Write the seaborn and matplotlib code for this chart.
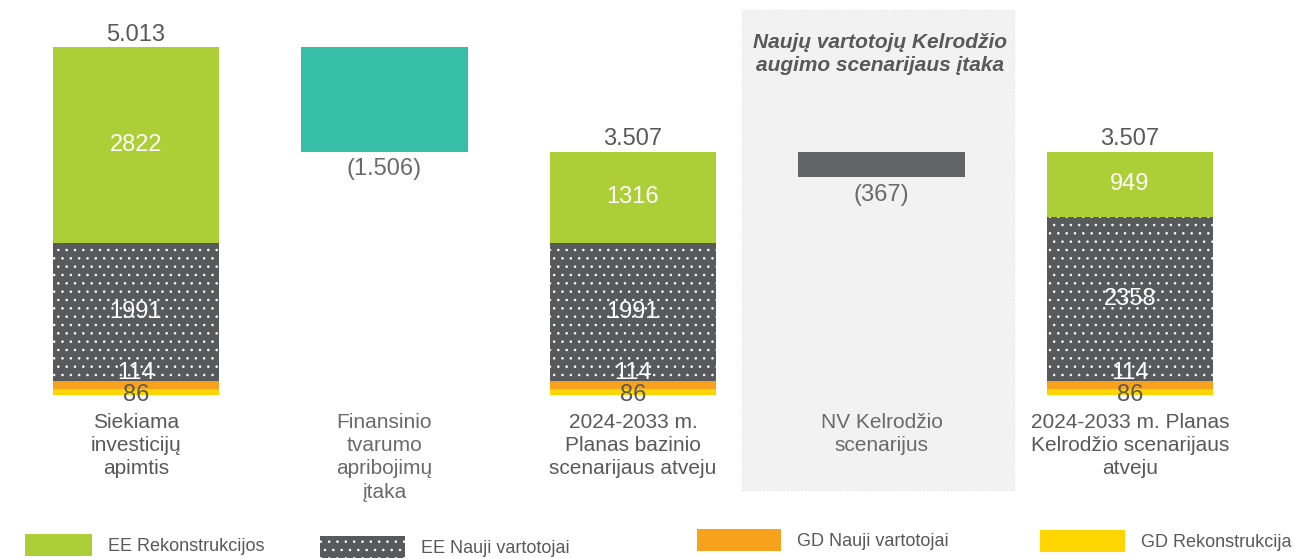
import matplotlib
matplotlib.use("Agg")
import matplotlib.pyplot as plt
import matplotlib.patches as mpatches
import seaborn as sns
import numpy as np

# ---- data -------------------------------------------------------------
categories = [
    "Siekiama\ninvesticijų\napimtis",
    "Finansinio\ntvarumo\napribojimų\nįtaka",
    "2024-2033 m.\nPlanas bazinio\nscenarijaus atveju",
    "NV Kelrodžio\nscenarijus",
    "2024-2033 m. Planas\nKelrodžio scenarijaus\natveju",
]
gd_rekonstrukcija = [86, 0, 86, 0, 86]
gd_nauji_vartotojai = [114, 0, 114, 0, 114]
ee_nauji_vartotojai = [1991, 0, 1991, 0, 2358]
ee_rekonstrukcijos = [2822, 0, 1316, 0, 949]
finansinio_poveikis = -1506   # step after the first column
nv_kelrodzio_poveikis = -367  # step after the third column

legend_labels = ["EE Rekonstrukcijos", "EE Nauji vartotojai",
                 "GD Nauji vartotojai", "GD Rekonstrukcija"]

# ---- styling ----------------------------------------------------------
C_GREEN = "#acce36"
C_DARK = "#58595b"
C_ORANGE = "#f7a11c"
C_YELLOW = "#ffd500"
C_TEAL = "#37bea6"
C_STEP = "#636466"
C_TEXT = "#595959"
C_TEXT_LIGHT = "#6a6a6a"
DOTS = ".."

sns.set_theme(style="white")
plt.rcParams["font.family"] = ["Liberation Sans", "DejaVu Sans"]
plt.rcParams["hatch.linewidth"] = 0.6

W, H, DPI = 1299, 559, 100
fig = plt.figure(figsize=(W / DPI, H / DPI), dpi=DPI)
fig.patch.set_facecolor("white")

base_px = 395
ax = fig.add_axes([0, (H - base_px) / H, 1, base_px / H])
ax.set_facecolor("none")

n = len(categories)
gd_r = np.array(gd_rekonstrukcija, float)
gd_n = np.array(gd_nauji_vartotojai, float)
ee_n = np.array(ee_nauji_vartotojai, float)
ee_r = np.array(ee_rekonstrukcijos, float)
totals = gd_r + gd_n + ee_n + ee_r

# floating step bars
step1_h = np.zeros(n); step1_b = np.zeros(n)
step1_h[1] = -finansinio_poveikis
step1_b[1] = totals[0] + finansinio_poveikis
step2_h = np.zeros(n); step2_b = np.zeros(n)
step2_h[3] = -nv_kelrodzio_poveikis
step2_b[3] = totals[2] + nv_kelrodzio_poveikis

bw = 0.67
common = dict(x=categories, width=bw, ax=ax, linewidth=0, saturation=1, order=categories)

sns.barplot(y=gd_r, bottom=0, color=C_YELLOW, **common)
sns.barplot(y=gd_n, bottom=gd_r, color=C_ORANGE, **common)
n_before = len(ax.patches)
sns.barplot(y=ee_n, bottom=gd_r + gd_n, color=C_DARK, edgecolor="white", **common)
for p in ax.patches[n_before:]:
    p.set_hatch(DOTS)
    p.set_edgecolor("white")
    p.set_linewidth(0)
sns.barplot(y=ee_r, bottom=gd_r + gd_n + ee_n, color=C_GREEN, **common)
sns.barplot(y=step1_h, bottom=step1_b, color=C_TEAL, **common)
sns.barplot(y=step2_h, bottom=step2_b, color=C_STEP, **common)

ymax = totals[0] * base_px / 348
ax.set_xlim(-0.547, 4.68)
ax.set_ylim(0, ymax)
ax.set_yticks([])
ax.set_xlabel("")
ax.set_ylabel("")
for s in ax.spines.values():
    s.set_visible(False)

ax.tick_params(axis="x", length=0, pad=13)
ax.set_xticks(range(n))
ax.set_xticklabels(categories, fontsize=15, linespacing=1.28)
for i, t in enumerate(ax.get_xticklabels()):
    t.set_color(C_TEXT_LIGHT if i in (1, 3) else C_TEXT)


def fmt_thousands(v):
    return f"{int(round(v)):,}".replace(",", ".")


VAL_FS = 17
for i in range(n):
    if totals[i] <= 0:
        continue
    # total on top
    ax.annotate(fmt_thousands(totals[i]), (i, totals[i]), xytext=(0, 1),
                textcoords="offset points", ha="center", va="bottom",
                fontsize=VAL_FS, color=C_TEXT)
    # EE Rekonstrukcijos
    y0 = gd_r[i] + gd_n[i] + ee_n[i]
    ax.text(i, y0 + ee_r[i] / 2, f"{int(ee_r[i])}", ha="center", va="center",
            fontsize=VAL_FS, color="white")
    # EE Nauji vartotojai
    y0 = gd_r[i] + gd_n[i]
    ax.text(i, y0 + ee_n[i] / 2, f"{int(ee_n[i])}", ha="center", va="center",
            fontsize=VAL_FS, color="white")
    # GD Nauji vartotojai
    ax.annotate(f"{int(gd_n[i])}", (i, gd_r[i] + gd_n[i]), xytext=(0, -2),
                textcoords="offset points", ha="center", va="bottom",
                fontsize=VAL_FS, color="white")
    # GD Rekonstrukcija
    ax.annotate(f"{int(gd_r[i])}", (i, gd_r[i] / 2), xytext=(0, -2),
                textcoords="offset points", ha="center", va="center",
                fontsize=VAL_FS, color=C_TEXT)

for i, change, bottom in [(1, finansinio_poveikis, step1_b[1]),
                          (3, nv_kelrodzio_poveikis, step2_b[3])]:
    ax.annotate(f"({fmt_thousands(-change)})", (i, bottom), xytext=(0, -5),
                textcoords="offset points", ha="center", va="top",
                fontsize=VAL_FS, color=C_TEXT_LIGHT)

# scenario panel behind the NV column
panel = mpatches.Rectangle((742 / W, (H - 490) / H), 272 / W, 480 / H,
                           transform=fig.transFigure, facecolor="#f2f2f2",
                           edgecolor="#e6e6e6", linestyle=(0, (1, 1.5)),
                           linewidth=1, zorder=-1)
fig.add_artist(panel)
fig.text(880 / W, 1 - 54 / H, "Naujų vartotojų Kelrodžio\naugimo scenarijaus įtaka",
         ha="center", va="center", fontsize=15, fontweight="bold",
         fontstyle="italic", color=C_TEXT, linespacing=1.3)

# legend entries along the bottom
handles = [
    mpatches.Patch(facecolor=C_GREEN, linewidth=0),
    mpatches.Patch(facecolor=C_DARK, edgecolor="white", hatch=DOTS, linewidth=0),
    mpatches.Patch(facecolor=C_ORANGE, linewidth=0),
    mpatches.Patch(facecolor=C_YELLOW, linewidth=0),
]
leg_pos = [(25, 545, 3.7), (320, 547, 4.7), (697, 540, 4.65), (1040, 541, 4.7)]
for h, lab, (px, py, hl) in zip(handles, legend_labels, leg_pos):
    lg = fig.legend([h], [lab], loc="center left",
                    bbox_to_anchor=(px / W, 1 - py / H),
                    frameon=False, fontsize=13, handlelength=hl,
                    handleheight=1.55, handletextpad=0.9,
                    borderpad=0, borderaxespad=0)
    for t in lg.get_texts():
        t.set_color(C_TEXT)

fig.savefig("out.png", dpi=DPI, facecolor="white")
